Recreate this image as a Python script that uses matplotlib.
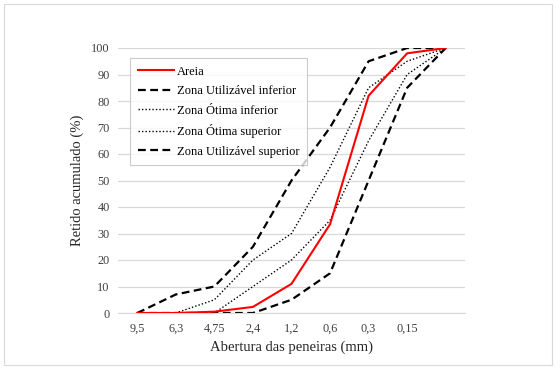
import matplotlib
matplotlib.use("Agg")
import matplotlib.pyplot as plt
from matplotlib.patches import Rectangle

plt.rcParams['font.family'] = ['Liberation Serif', 'DejaVu Serif']

# peneiras (mm); o último ponto é o fundo, sem rótulo
peneiras = ['9,5', '6,3', '4,75', '2,4', '1,2', '0,6', '0,3', '0,15', '']

areia = [0, 0, 0.5, 2.3, 11, 33.5, 82, 98, 100]
util_inferior = [0, 0, 0, 0, 5, 15, 50, 85, 100]
otima_inferior = [0, 0, 0, 10, 20, 35, 65, 90, 100]
otima_superior = [0, 0, 5, 20, 30, 55, 85, 95, 100]
util_superior = [0, 7, 10, 25, 50, 70, 95, 100, 100]

fig = plt.figure(figsize=(5.6, 3.69), dpi=100)
ax = fig.add_axes([118/560, 1 - 313/369, 347/560, 265/369])

x = range(len(peneiras))
ax.plot(x, areia, color='#ff0000', lw=1.5, label='Areia', zorder=5)
ax.plot(x, util_inferior, color='black', lw=1.6, dashes=(3.5, 2),
        label='Zona Utilizável inferior')
ax.plot(x, otima_inferior, color='black', lw=1.0, ls=(0, (1, 1.5)),
        label='Zona Ótima inferior')
ax.plot(x, otima_superior, color='black', lw=1.0, ls=(0, (1, 1.5)),
        label='Zona Ótima superior')
ax.plot(x, util_superior, color='black', lw=1.6, dashes=(3.5, 2),
        label='Zona Utilizável superior')

ax.set_xlim(-0.5, len(peneiras) - 0.5)
ax.set_ylim(0, 100)
ax.set_yticks(range(0, 101, 10))
ax.set_xticks(list(x))
ax.set_xticklabels(peneiras)
ax.tick_params(length=0, labelsize=8.8, colors='#404040', pad=6)
ax.tick_params(axis='x', pad=7)
ax.grid(axis='y', color='#d9d9d9', lw=0.9)
ax.set_axisbelow(True)
for s in ['top', 'right', 'left']:
    ax.spines[s].set_visible(False)
ax.spines['bottom'].set_color('#d9d9d9')

ax.set_xlabel('Abertura das peneiras (mm)', fontsize=10.5, color='#262626', labelpad=4)
ax.set_ylabel('Retido acumulado (%)', fontsize=10.5, color='#262626', labelpad=5)

leg = ax.legend(loc='upper left', bbox_to_anchor=(0.018, 0.985), fontsize=9,
                frameon=True, fancybox=False, handlelength=2.9, handletextpad=0.2,
                borderpad=0.6, labelspacing=0.6)
leg.get_frame().set_edgecolor('#bfbfbf')
leg.get_frame().set_linewidth(0.8)

fig.patches.append(Rectangle((4/560, 4/369), 548/560, 361/369, transform=fig.transFigure,
                             fill=False, edgecolor='#d9d9d9', lw=0.8))

fig.savefig('out.png', dpi=100)
